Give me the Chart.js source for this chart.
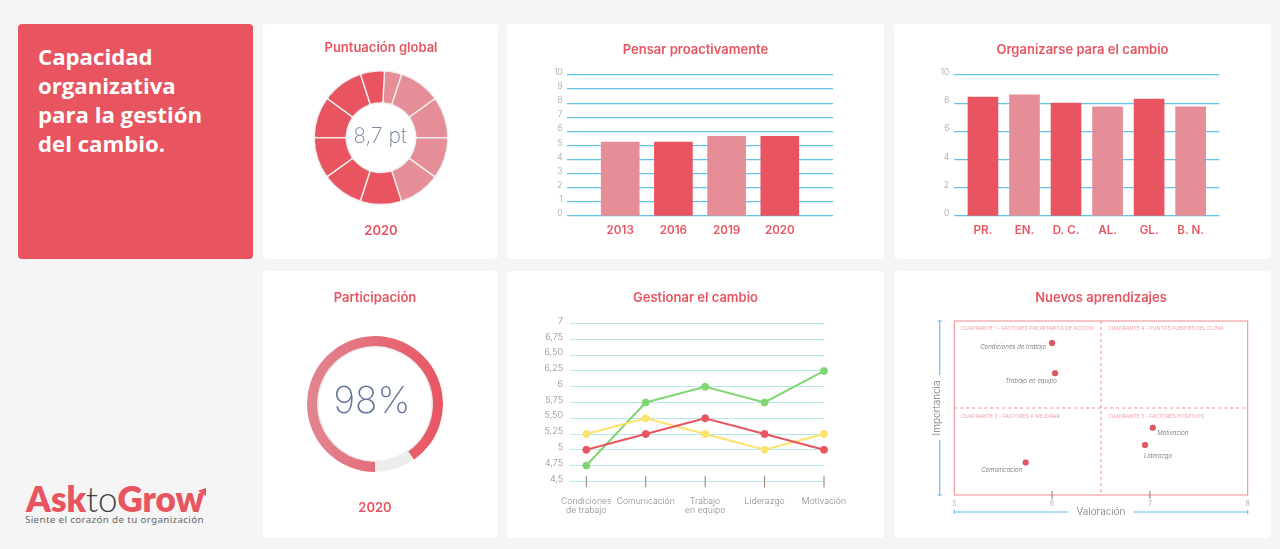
<!DOCTYPE html>
<html lang="es"><head><meta charset="utf-8">
<script src="https://cdn.jsdelivr.net/npm/chart.js@4"></script>
<style>
html,body{margin:0;padding:0;background:#f5f5f5;width:1280px;height:549px;overflow:hidden}
.card{position:absolute;background:#fff;border-radius:4px}
canvas{position:absolute}
#hero{left:18px;top:24px;width:235px;height:235px;background:#e85561;color:#fff;font:700 22.2px/29px "Open Sans",sans-serif}
#hero div{position:absolute;left:20px;top:18px}
#logo{position:absolute;left:26px;top:478px;font:800 35px/40px Lato,sans-serif;color:#e85561;white-space:nowrap}
#logo span{font-weight:300;color:#444}
#arrow{position:absolute;left:198px;top:488px;width:8px;height:8px;background:#e85561;clip-path:polygon(100% 0,100% 100%,0 35%)}
#tag{position:absolute;left:25px;top:513px;font:400 9.8px/14px "Noto Sans",sans-serif;color:#666;letter-spacing:.35px;white-space:nowrap}
</style></head><body>
<div class="card" id="hero"><div>Capacidad<br>organizativa<br>para la gestión<br>del cambio.</div></div>
<div class="card" style="left:263px;top:24px;width:235px;height:235px"></div>
<div class="card" style="left:507px;top:24px;width:377px;height:235px"></div>
<div class="card" style="left:894px;top:24px;width:377px;height:235px"></div>
<div class="card" style="left:263px;top:271px;width:235px;height:267px"></div>
<div class="card" style="left:507px;top:271px;width:377px;height:267px"></div>
<div class="card" style="left:894px;top:271px;width:377px;height:267px"></div>
<div id="logo">Ask<span>to</span>Grow</div><div id="arrow"></div>
<div id="tag">Siente el corazón de tu organización</div>
<canvas id="c1" width="235" height="235" style="left:263px;top:24px"></canvas>
<canvas id="c2" width="377" height="235" style="left:507px;top:24px"></canvas>
<canvas id="c3" width="377" height="235" style="left:894px;top:24px"></canvas>
<canvas id="c4" width="224" height="267" style="left:263px;top:271px"></canvas>
<canvas id="c5" width="377" height="267" style="left:507px;top:271px"></canvas>
<canvas id="c6" width="340" height="267" style="left:931px;top:271px"></canvas>
<script>
const globalSegments = [0.42,1,1,1,1,1,1,1,1,1,0.58];
const participationArc = [90.3,9.7];
const yearLabels = ['2013','2016','2019','2020'];
const yearValues = [5.25,5.25,5.65,5.65];
const dimensionLabels = ['PR.','EN.','D. C.','AL.','GL.','B. N.'];
const dimensionValues = [8.43,8.6,8.0,7.74,8.29,7.74];
const changeLabels = [['Condiciones','de trabajo'],'Comunicación',['Trabajo','en equipo'],'Liderazgo','Motivación'];
const changeGreen = [4.75,5.75,6,5.75,6.25];
const changeYellow = [5.25,5.5,5.25,5,5.25];
const changeRed = [5,5.25,5.5,5.25,5];
const changeTicks = ['4,5','4,75','5','5,25','5,50','5,75','6','6,25','6,50','6,75','7'];
const matrixNames = ['Condiciones de trabajo','Trabajo en equipo','Comunicación','Motivación','Liderazgo'];
const matrixValoracion = [6.0,6.03,5.73,7.03,6.95];
const matrixImportancia = [7.62,7.10,5.56,6.16,5.86];
const quadrantNames = ['CUADRANTE 1 - FACTORES PRIORITARIOS DE ACCIÓN','CUADRANTE 4 - PUNTOS FUERTES DEL CLIMA','CUADRANTE 2 - FACTORES A MEJORAR','CUADRANTE 3 - FACTORES POSITIVOS'];

const RED='#e85561',PINK='#e58e98',FONT='Inter, sans-serif',GRAY='#9c9c9c',BLUE='#62c3e8',TEAL='#b8e9ea',BROWN='#9a7a70';
const titleFont={family:FONT,size:13,weight:'600',lineHeight:1.2};
Chart.defaults.animation=false;Chart.defaults.responsive=false;
Chart.defaults.plugins.legend.display=false;Chart.defaults.plugins.tooltip.enabled=false;
Chart.defaults.font.family=FONT;
const title=(text,top,bottom)=>({display:true,text,color:RED,font:titleFont,padding:{top,bottom}});
const fix=(w)=>s=>{s.width=w};const fixH=(h)=>s=>{s.height=h};
const spacer=(w)=>({position:'right',afterFit:fix(w),grid:{display:false,drawTicks:false},border:{display:false},ticks:{display:false}});

const centerText=(text,size,dx,dy,color)=>({id:'centerText',afterDraw(ch){const c=ch.ctx,a=ch.chartArea;c.save();c.font=`200 ${size}px ${FONT}`;c.fillStyle=color;c.textAlign='center';c.textBaseline='middle';c.fillText(text,(a.left+a.right)/2+dx,(a.top+a.bottom)/2+dy);c.restore();}});

new Chart(c1,{type:'doughnut',
 data:{labels:globalSegments.map((_,i)=>'S'+(i+1)),datasets:[{data:globalSegments,
  backgroundColor:globalSegments.map((_,i)=>i<5?PINK:RED),borderColor:'#f1eeee',borderWidth:1.4,borderRadius:2}]},
 options:{rotation:3,cutout:'52%',layout:{padding:{left:1,right:0}},plugins:{
  title:title('Puntuación global',16,14.6),
  subtitle:{display:true,position:'bottom',text:'2020',color:RED,font:titleFont,padding:{top:18,bottom:20.2}}}},
 plugins:[centerText('8,7 pt',21,-1,-1,'#74839e')]});

new Chart(c4,{type:'doughnut',
 data:{labels:['Participación','Resto'],datasets:[{data:participationArc,weight:10,borderWidth:0,
   backgroundColor:ctx=>{if(ctx.dataIndex===1)return '#ececec';const a=ctx.chart.chartArea;if(!a)return RED;
     const g=ctx.chart.ctx.createLinearGradient((a.left+a.right)/2-68,0,(a.left+a.right)/2+68,0);g.addColorStop(0,'#e28592');g.addColorStop(1,RED);return g;}},
  {data:[100],weight:1.5,borderWidth:0,backgroundColor:'#ebebeb'}]},
 options:{rotation:180,cutout:'83%',plugins:{
  title:title('Participación',19,30.4),
  subtitle:{display:true,position:'bottom',text:'2020',color:RED,font:titleFont,padding:{top:28.7,bottom:21.7}}}},
 plugins:[centerText('98%',37,-3,-2,'#66779a')]});

function barChart(cv,name,labels,values,colors,thick,xmin,xmax,step,left,right,offs){
 new Chart(cv,{type:'bar',
  data:{datasets:[{label:name,data:values.map((y,x)=>({x,y})),backgroundColor:colors,barThickness:thick}]},
  options:{plugins:{title:title(name,18,17.4)},
   scales:{
    x:{type:'linear',offset:false,min:xmin,max:xmax,grid:{display:false,drawTicks:false},border:{display:false},afterFit:fixH(43),
      afterBuildTicks:s=>{s.ticks=labels.map((_,i)=>({value:i}))},
      ticks:{autoSkip:false,maxRotation:0,padding:8,color:RED,font:{size:11.6,weight:'600'},callback:v=>labels[v]}},
    y:{min:0,max:10,border:{display:false},afterFit:fix(left),grid:{color:BLUE,lineWidth:1.3,drawTicks:false},
      ticks:{stepSize:step,padding:offs,labelOffset:-2.5,color:GRAY,font:{size:8.5,weight:'300'}}},
    yR:spacer(right)}}});
}
barChart(c2,'Pensar proactivamente',yearLabels,yearValues,[PINK,RED,PINK,RED],38,-1,4,1,60,51,4.5);
barChart(c3,'Organizarse para el cambio',dimensionLabels,dimensionValues,[RED,PINK,RED,PINK,RED,PINK],30,-0.69,5.69,2,60.3,51.7,5);

new Chart(c5,{type:'line',
 data:{labels:changeLabels,datasets:[
  {label:'Serie roja',data:changeRed,borderColor:RED,backgroundColor:RED},
  {label:'Serie amarilla',data:changeYellow,borderColor:'#fde26c',backgroundColor:'#fde26c'},
  {label:'Serie verde',data:changeGreen,borderColor:'#80d673',backgroundColor:'#80d673'}]},
 options:{elements:{line:{borderWidth:2,tension:0},point:{radius:3.5}},datasets:{line:{clip:false}},
  plugins:{title:title('Gestionar el cambio',19,18.1)},
  scales:{
   x:{offset:false,grid:{display:false,drawTicks:false},border:{display:false},afterFit:fixH(56.7),
     ticks:{autoSkip:false,maxRotation:0,padding:16,color:'#8a8a8a',font:{size:8.7,weight:'300',lineHeight:1.03}}},
   y:{min:4.5,max:7,border:{display:false},afterFit:fix(79.3),
     grid:{color:TEAL,tickColor:TEAL,tickLength:16.3},
     afterBuildTicks:s=>{s.ticks=changeTicks.map((_,i)=>({value:4.5+i*0.25}))},
     ticks:{autoSkip:false,padding:7,labelOffset:-2.5,color:'#8a8a8a',font:{size:9,weight:'300'},callback:(v,i)=>changeTicks[i]}},
   yR:spacer(60)}},
 plugins:[{id:'ticks',beforeDatasetsDraw(ch){const c=ch.ctx,x=ch.scales.x,b=ch.chartArea.bottom;c.save();c.strokeStyle=BROWN;c.lineWidth=1;
   changeLabels.forEach((_,i)=>{const p=x.getPixelForValue(i);c.beginPath();c.moveTo(p,b-5.5);c.lineTo(p,b+6);c.stroke();});c.restore();}}]});

const nameOffsets=[[-39,4],[-24,8],[-24,7.5],[20,5.7],[13,11]];
const quadrantSpots=[[0,0],[1,0],[0,1],[1,1]];
new Chart(c6,{type:'scatter',
 data:{datasets:[{label:'Factores',data:matrixValoracion.map((x,i)=>({x,y:matrixImportancia[i]})),backgroundColor:RED,pointRadius:3}]},
 options:{layout:{padding:{left:23.3,right:23.3}},plugins:{title:title('Nuevos aprendizajes',19,15.4)},
  scales:{
   x:{min:5,max:8,grid:{display:false,drawTicks:false},border:{display:false},afterFit:fixH(43),
     title:{display:true,text:'Valoración',color:'#777',font:{size:10,weight:'300',lineHeight:1.2},padding:{top:0,bottom:20}},
     ticks:{stepSize:1,padding:4.5,color:GRAY,font:{size:7,weight:'300'}}},
   y:{min:5,max:8,grid:{display:false,drawTicks:false},border:{display:false},afterFit:fix(0),
     title:{display:true,text:'Importancia',color:'#777',font:{size:10,weight:'300',lineHeight:1.2},padding:{top:-23.3,bottom:0}},
     ticks:{display:false}}}},
 plugins:[{id:'matrix',beforeDatasetsDraw(ch){const c=ch.ctx,a=ch.chartArea,X=ch.scales.x,Y=ch.scales.y;c.save();
   c.strokeStyle='#ee8a94';c.lineWidth=1;c.strokeRect(a.left,a.top,a.width,a.height);
   c.setLineDash([3,3]);c.beginPath();const mx=X.getPixelForValue(6.5),my=Y.getPixelForValue(6.5);
   c.moveTo(mx,a.top);c.lineTo(mx,a.bottom);c.moveTo(a.left,my);c.lineTo(a.right,my);c.stroke();c.setLineDash([]);
   c.strokeStyle=BROWN;[6,7].forEach(v=>{const p=X.getPixelForValue(v);c.beginPath();c.moveTo(p,a.bottom-4);c.lineTo(p,a.bottom+4);c.stroke();});
   c.strokeStyle=BLUE;c.lineWidth=1.2;const ax=8.7,ly=a.bottom+17;
   const seg=(x1,y1,x2,y2)=>{c.beginPath();c.moveTo(x1,y1);c.lineTo(x2,y2);c.stroke();};
   seg(ax,a.top,ax,a.top+54);seg(ax,a.top+119,ax,a.bottom);seg(ax-2,a.top,ax+2,a.top);seg(ax-2,a.bottom,ax+2,a.bottom);
   seg(a.left,ly,a.left+114,ly);seg(a.left+179,ly,a.right,ly);seg(a.left,ly-2,a.left,ly+2);seg(a.right,ly-2,a.right,ly+2);
   c.font=`400 5.1px ${FONT}`;c.fillStyle='#f0a3aa';c.textBaseline='middle';c.textAlign='left';
   quadrantNames.forEach((n,i)=>{const [qx,qy]=quadrantSpots[i];c.fillText(n,(qx?mx:a.left)+7,(qy?my+8:a.top+7));});
   c.restore();},
  afterDatasetsDraw(ch){const c=ch.ctx,X=ch.scales.x,Y=ch.scales.y;c.save();c.font=`italic 300 6.1px ${FONT}`;c.fillStyle='#666';c.textAlign='center';c.textBaseline='middle';
   matrixNames.forEach((n,i)=>c.fillText(n,X.getPixelForValue(matrixValoracion[i])+nameOffsets[i][0],Y.getPixelForValue(matrixImportancia[i])+nameOffsets[i][1]));c.restore();}}]});
</script></body></html>
